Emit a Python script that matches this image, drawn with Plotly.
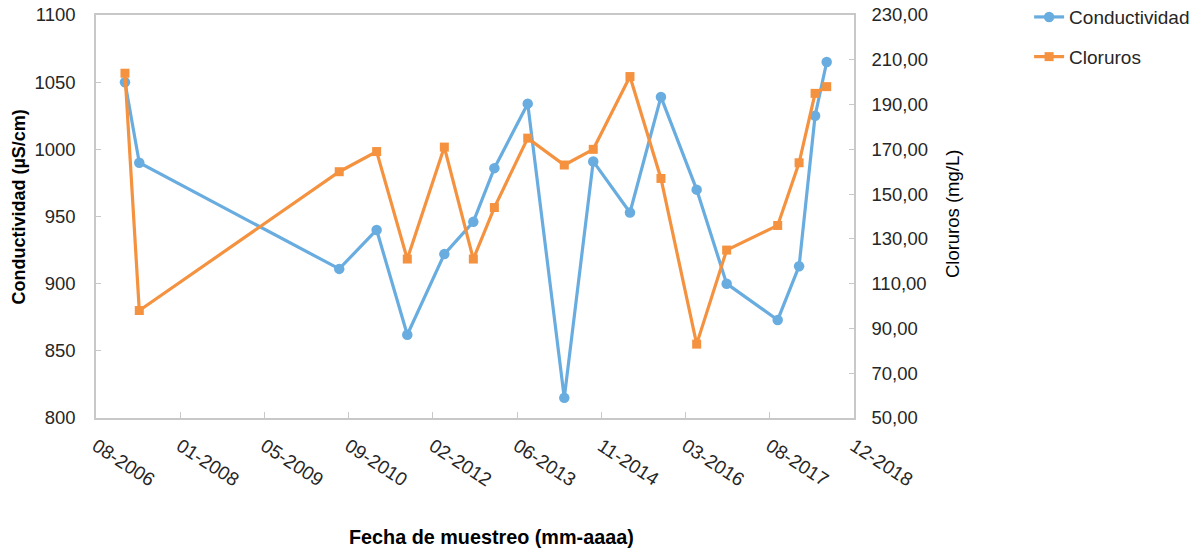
import plotly.graph_objects as go

# Sampling dates (shared by both series)
fechas = [
    "2007-02-09", "2007-05-05", "2010-08-04", "2011-03-14", "2011-09-12",
    "2012-04-19", "2012-10-08", "2013-02-10", "2013-08-27", "2014-04-01",
    "2014-09-20", "2015-04-26", "2015-10-27", "2016-05-26", "2016-11-20",
    "2017-09-19", "2018-01-24", "2018-04-29", "2018-07-07",
]

# Conductivity (µS/cm)
conductividad = [
    1050, 990, 911, 940, 862, 922, 946, 986, 1034, 815,
    991, 953, 1039, 970, 900, 873, 913, 1025, 1065,
]

# Chlorides (mg/L)
cloruros = [
    204, 98, 160, 169, 121, 171, 121, 144, 175, 163,
    170, 202.5, 157, 83, 125, 136, 164, 195, 198,
]

AZUL = "#69ADE0"
NARANJA = "#F4923F"
EJE = "#C8C8C8"
TEXTO = "#262626"
FUENTE = "Arial, Liberation Sans, sans-serif"

fig = go.Figure()

fig.add_trace(go.Scatter(
    x=fechas, y=conductividad, name="Conductividad",
    mode="lines+markers", legendgroup="a",
    line=dict(color=AZUL, width=3.2),
    marker=dict(symbol="circle", size=10.5, color=AZUL),
    yaxis="y",
))

fig.add_trace(go.Scatter(
    x=fechas, y=cloruros, name="Cloruros",
    mode="lines+markers", legendgroup="b",
    line=dict(color=NARANJA, width=3.2),
    marker=dict(symbol="square", size=9, color=NARANJA),
    yaxis="y2",
))

DIA_MS = 86400000

fig.update_layout(
    width=1203, height=550,
    margin=dict(l=96, r=349, t=15, b=132, autoexpand=False),
    paper_bgcolor="white", plot_bgcolor="white",
    separators=",.",
    font=dict(family=FUENTE, size=18, color=TEXTO),
    showlegend=True,
    legend=dict(
        x=1.231, xanchor="left", y=1.042, yanchor="top",
        font=dict(size=19, color=TEXTO),
        traceorder="grouped", tracegroupgap=12,
        bgcolor="rgba(0,0,0,0)",
    ),
    xaxis=dict(
        type="date",
        range=["2006-08-21", "2018-12-16"],
        tick0="2006-08-21", dtick=500 * DIA_MS,
        tickformat="%m-%Y", tickangle=33,
        ticks="inside", ticklen=6, tickcolor=EJE,
        ticklabelstandoff=8,
        showline=True, linecolor=EJE, linewidth=1.5, mirror=True,
        showgrid=False, zeroline=False,
        tickfont=dict(size=19, color=TEXTO),
    ),
    yaxis=dict(
        range=[800, 1100], dtick=50,
        ticks="inside", ticklen=5, tickcolor=EJE,
        ticklabelstandoff=15,
        showline=True, linecolor=EJE, linewidth=1.5,
        showgrid=False, zeroline=False,
        tickfont=dict(size=18.5, color=TEXTO),
    ),
    yaxis2=dict(
        range=[50, 230], tick0=50, dtick=20, tickformat=".2f",
        overlaying="y", side="right",
        ticks="inside", ticklen=5, tickcolor=EJE,
        ticklabelstandoff=12,
        showline=True, linecolor=EJE, linewidth=1.5,
        showgrid=False, zeroline=False,
        tickfont=dict(size=18.5, color=TEXTO),
    ),
    annotations=[
        dict(text="<b>Conductividad (µS/cm)</b>", textangle=-90,
             xref="paper", yref="paper", x=-0.1022, y=0.5236,
             xanchor="center", yanchor="middle", showarrow=False,
             font=dict(size=18, color="black")),
        dict(text="Cloruros (mg/L)", textangle=-90,
             xref="paper", yref="paper", x=1.1293, y=0.506,
             xanchor="center", yanchor="middle", showarrow=False,
             font=dict(size=18.5, color="black")),
        dict(text="<b>Fecha de muestreo (mm-aaaa)</b>",
             xref="paper", yref="paper", x=0.5224, y=-0.2953,
             xanchor="center", yanchor="middle", showarrow=False,
             font=dict(size=19.8, color="black")),
    ],
)

fig.write_html("out.html")
